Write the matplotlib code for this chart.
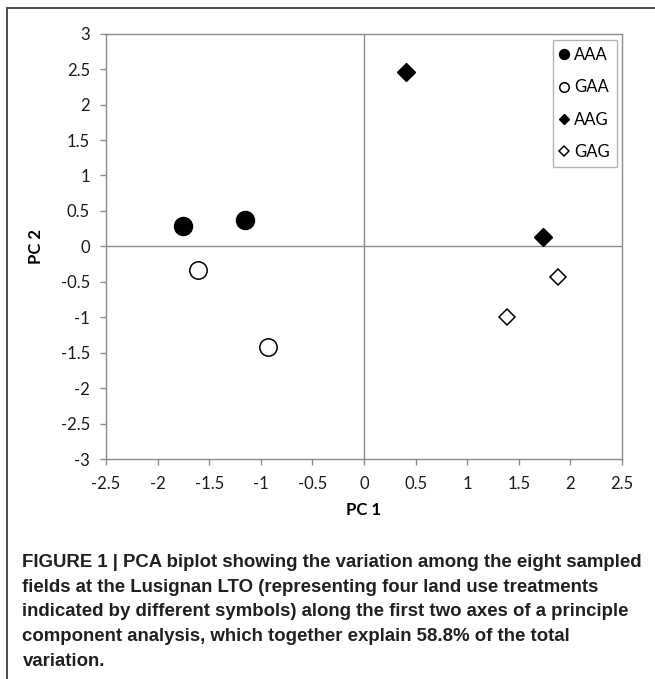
import matplotlib
matplotlib.use('Agg')
import matplotlib.pyplot as plt
from matplotlib.lines import Line2D

# PCA scores
groups = ['AAA', 'GAA', 'AAG', 'GAG']
pc1 = {'AAA': [-1.75, -1.15], 'GAA': [-1.61, -0.93],
       'AAG': [0.41, 1.73], 'GAG': [1.39, 1.88]}
pc2 = {'AAA': [0.29, 0.37], 'GAA': [-0.34, -1.42],
       'AAG': [2.46, 0.13], 'GAG': [-1.00, -0.43]}
xticks = [-2.5, -2, -1.5, -1, -0.5, 0, 0.5, 1, 1.5, 2, 2.5]
yticks = [-3, -2.5, -2, -1.5, -1, -0.5, 0, 0.5, 1, 1.5, 2, 2.5, 3]

caption = ["FIGURE 1 | PCA biplot showing the variation among the eight sampled",
           "fields at the Lusignan LTO (representing four land use treatments",
           "indicated by different symbols) along the first two axes of a principle",
           "component analysis, which together explain 58.8% of the total",
           "variation."]

chart_font = ['Lato', 'DejaVu Sans']
cap_font = ['Liberation Sans', 'DejaVu Sans']

W, H = 655, 679
fig = plt.figure(figsize=(W / 100, H / 100), dpi=100)
ax = fig.add_axes([106 / W, 1 - 459 / H, 516 / W, 425.3 / H])

styles = {'AAA': dict(marker='o', ms=13, mfc='black', mec='black', mew=1.0),
          'GAA': dict(marker='o', ms=12.5, mfc='white', mec='black', mew=1.1),
          'AAG': dict(marker='D', ms=8.8, mfc='black', mec='black', mew=1.0),
          'GAG': dict(marker='D', ms=8.4, mfc='white', mec='black', mew=1.1)}
for g in groups:
    ax.plot(pc1[g], pc2[g], ls='none', label=g, zorder=3, **styles[g])

grey = '#8c8c8c'
ax.axhline(0, color=grey, lw=1.0, zorder=1)
ax.axvline(0, color=grey, lw=1.0, zorder=1)
ax.set_xlim(-2.5, 2.5)
ax.set_ylim(-3, 3)
ax.set_xticks(xticks)
ax.set_yticks(yticks)
ax.set_xticklabels(['%g' % v for v in xticks])
ax.set_yticklabels(['%g' % v for v in yticks])
for s in ax.spines.values():
    s.set_color(grey)
    s.set_linewidth(1.0)
ax.tick_params(direction='out', length=4.5, width=1.0, color=grey,
               labelsize=12, labelcolor='#1a1a1a')
ax.tick_params(axis='x', pad=8)
ax.tick_params(axis='y', pad=7)
for lab in ax.get_xticklabels() + ax.get_yticklabels():
    lab.set_family(chart_font)

ax.set_xlabel('PC 1', fontsize=12, fontweight='bold', family=chart_font, labelpad=7)
ax.set_ylabel('PC 2', fontsize=12, fontweight='bold', family=chart_font, labelpad=12)

leg = ax.legend(loc='upper right', bbox_to_anchor=(0.990, 0.985), borderaxespad=0,
                markerscale=0.55, handlelength=0.45, handletextpad=0.4,
                labelspacing=0.98, borderpad=0.42, fancybox=False,
                prop={'family': chart_font, 'size': 12})
leg.get_frame().set_edgecolor('#a0a0a0')
leg.get_frame().set_linewidth(1.0)

# outer frame of the figure panel
fig.add_artist(Line2D([7 / W, 1], [1 - 8 / H, 1 - 8 / H], color='#4d4d4d', lw=1.4))
fig.add_artist(Line2D([7 / W, 7 / W], [0, 1 - 8 / H], color='#4d4d4d', lw=1.4))

# caption, sized so the first line spans the same width as in the figure
renderer = fig.canvas.get_renderer()
texts = []
for i, line in enumerate(caption):
    t = fig.text(22.5 / W, 1 - (567 + 24.7 * i) / H, line, family=cap_font,
                 fontsize=11.2, fontweight='bold', color='#231f20',
                 va='baseline', ha='left')
    texts.append(t)
w0 = texts[0].get_window_extent(renderer).width
size = 11.2 * (619.0 / w0)
for t in texts:
    t.set_fontsize(size)

fig.savefig('out.png', dpi=100)
